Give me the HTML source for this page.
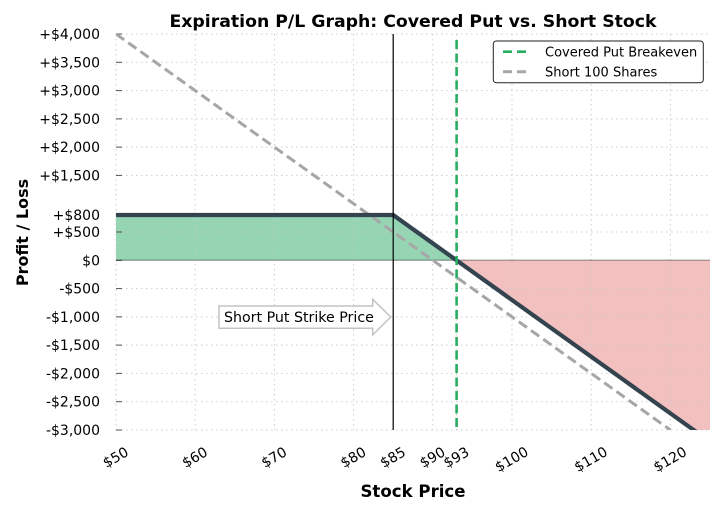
<!DOCTYPE html>
<html>
<head>
<meta charset="utf-8">
<style>
html,body{margin:0;padding:0;background:#fff;}
svg{display:block;}
text{font-family:"DejaVu Sans","Liberation Sans",sans-serif;fill:#000;}
</style>
</head>
<body>
<svg width="723" height="515" viewBox="0 0 723 515" xmlns="http://www.w3.org/2000/svg">
  <rect x="0" y="0" width="723" height="515" fill="#fff"/>
  <defs>
    <clipPath id="plot"><rect x="116" y="34" width="594" height="396"/></clipPath>
  </defs>

  <!-- fills -->
  <g clip-path="url(#plot)">
    <polygon points="116,215 393,215 456.6,260.3 116,260.3" fill="#95d5b4"/>
    <polygon points="456.6,260.3 710,260.3 710,441.7" fill="#f3c0c0"/>
  </g>

  <!-- grid -->
  <g stroke="#c8c8c8" stroke-width="1" stroke-dasharray="1.5 3.5" opacity="0.9">
    <line x1="116" y1="34" x2="710" y2="34"/>
    <line x1="116" y1="62.3" x2="710" y2="62.3"/>
    <line x1="116" y1="90.6" x2="710" y2="90.6"/>
    <line x1="116" y1="118.9" x2="710" y2="118.9"/>
    <line x1="116" y1="147.1" x2="710" y2="147.1"/>
    <line x1="116" y1="175.4" x2="710" y2="175.4"/>
    <line x1="116" y1="215" x2="710" y2="215"/>
    <line x1="116" y1="232" x2="710" y2="232"/>
    <line x1="116" y1="288.6" x2="710" y2="288.6"/>
    <line x1="116" y1="316.9" x2="710" y2="316.9"/>
    <line x1="116" y1="345.1" x2="710" y2="345.1"/>
    <line x1="116" y1="373.4" x2="710" y2="373.4"/>
    <line x1="116" y1="401.7" x2="710" y2="401.7"/>
    <line x1="116" y1="430" x2="710" y2="430"/>
    <line x1="116" y1="34" x2="116" y2="430"/>
    <line x1="195.2" y1="34" x2="195.2" y2="430"/>
    <line x1="274.4" y1="34" x2="274.4" y2="430"/>
    <line x1="353.6" y1="34" x2="353.6" y2="430"/>
    <line x1="393.2" y1="34" x2="393.2" y2="430"/>
    <line x1="432.8" y1="34" x2="432.8" y2="430"/>
    <line x1="456.6" y1="34" x2="456.6" y2="430"/>
    <line x1="512" y1="34" x2="512" y2="430"/>
    <line x1="591.2" y1="34" x2="591.2" y2="430"/>
    <line x1="670.4" y1="34" x2="670.4" y2="430"/>
  </g>

  <!-- y tick marks -->
  <g stroke="#555" stroke-width="1">
    <line x1="116" y1="34" x2="122" y2="34"/>
    <line x1="116" y1="62.3" x2="122" y2="62.3"/>
    <line x1="116" y1="90.6" x2="122" y2="90.6"/>
    <line x1="116" y1="118.9" x2="122" y2="118.9"/>
    <line x1="116" y1="147.1" x2="122" y2="147.1"/>
    <line x1="116" y1="175.4" x2="122" y2="175.4"/>
    <line x1="116" y1="215" x2="122" y2="215"/>
    <line x1="116" y1="232" x2="122" y2="232"/>
    <line x1="116" y1="260.3" x2="122" y2="260.3"/>
    <line x1="116" y1="288.6" x2="122" y2="288.6"/>
    <line x1="116" y1="316.9" x2="122" y2="316.9"/>
    <line x1="116" y1="345.1" x2="122" y2="345.1"/>
    <line x1="116" y1="373.4" x2="122" y2="373.4"/>
    <line x1="116" y1="401.7" x2="122" y2="401.7"/>
    <line x1="116" y1="430" x2="122" y2="430"/>
  </g>

  <!-- zero line -->
  <line x1="116" y1="260.3" x2="710" y2="260.3" stroke="#000" stroke-opacity="0.3" stroke-width="1.5"/>

  <g clip-path="url(#plot)">
    <!-- short stock -->
    <line x1="116" y1="34" x2="670.4" y2="430" stroke="#a6a6a6" stroke-width="3" stroke-dasharray="10 5"/>
    <!-- covered put P/L -->
    <polyline points="116,215 393.2,215 710,441.7" fill="none" stroke="#34444f" stroke-width="4.2" stroke-linejoin="miter"/>
    <!-- strike line -->
    <line x1="393.2" y1="34" x2="393.2" y2="430" stroke="#000" stroke-width="1.2"/>
    <!-- breakeven -->
    <line x1="456.6" y1="40" x2="456.6" y2="430" stroke="#27ae60" stroke-width="2.6" stroke-dasharray="9 4.5"/>
  </g>

  <!-- annotation -->
  <polygon points="219,306 372.7,306 372.7,299.3 390.7,317 372.7,335 372.7,328.3 219,328.3" fill="#fff" stroke="#c4c4c4" stroke-width="1.5"/>
  <text x="224" y="322" font-size="14.2">Short Put Strike Price</text>

  <!-- y labels -->
  <g font-size="14" text-anchor="end">
    <text x="100" y="39">+$4,000</text>
    <text x="100" y="67.3">+$3,500</text>
    <text x="100" y="95.6">+$3,000</text>
    <text x="100" y="123.9">+$2,500</text>
    <text x="100" y="152.1">+$2,000</text>
    <text x="100" y="180.4">+$1,500</text>
    <text x="100" y="220">+$800</text>
    <text x="100" y="237">+$500</text>
    <text x="100" y="265.3">$0</text>
    <text x="100" y="293.6">-$500</text>
    <text x="100" y="321.9">-$1,000</text>
    <text x="100" y="350.1">-$1,500</text>
    <text x="100" y="378.4">-$2,000</text>
    <text x="100" y="406.7">-$2,500</text>
    <text x="100" y="435">-$3,000</text>
  </g>

  <!-- x labels -->
  <g font-size="14" text-anchor="middle" dominant-baseline="central">
    <text x="116" y="458" transform="rotate(-30 116 458)">$50</text>
    <text x="195.2" y="458" transform="rotate(-30 195.2 458)">$60</text>
    <text x="274.4" y="458" transform="rotate(-30 274.4 458)">$70</text>
    <text x="353.6" y="458" transform="rotate(-30 353.6 458)">$80</text>
    <text x="393.2" y="458" transform="rotate(-30 393.2 458)">$85</text>
    <text x="432.8" y="458" transform="rotate(-30 432.8 458)">$90</text>
    <text x="456.6" y="458" transform="rotate(-30 456.6 458)">$93</text>
    <text x="512" y="460" transform="rotate(-30 512 460)">$100</text>
    <text x="591.2" y="460" transform="rotate(-30 591.2 460)">$110</text>
    <text x="670.4" y="460" transform="rotate(-30 670.4 460)">$120</text>
  </g>

  <!-- axis labels -->
  <text x="413" y="497" font-size="16.6" font-weight="bold" text-anchor="middle">Stock Price</text>
  <text x="0" y="0" font-size="16" font-weight="bold" text-anchor="middle" transform="translate(28 232.5) rotate(-90)">Profit / Loss</text>

  <!-- title -->
  <text x="413" y="27" font-size="17.3" font-weight="bold" text-anchor="middle">Expiration P/L Graph: Covered Put vs. Short Stock</text>

  <!-- legend -->
  <rect x="493.3" y="41" width="210" height="41.7" rx="3" ry="3" fill="#fff" stroke="#222" stroke-width="1"/>
  <line x1="503" y1="51.7" x2="531" y2="51.7" stroke="#27ae60" stroke-width="2.6" stroke-dasharray="9 5"/>
  <line x1="503" y1="71.7" x2="531" y2="71.7" stroke="#a6a6a6" stroke-width="3" stroke-dasharray="9 5"/>
  <text x="545" y="56.5" font-size="13">Covered Put Breakeven</text>
  <text x="545" y="76.5" font-size="13">Short 100 Shares</text>
</svg>
</body>
</html>
